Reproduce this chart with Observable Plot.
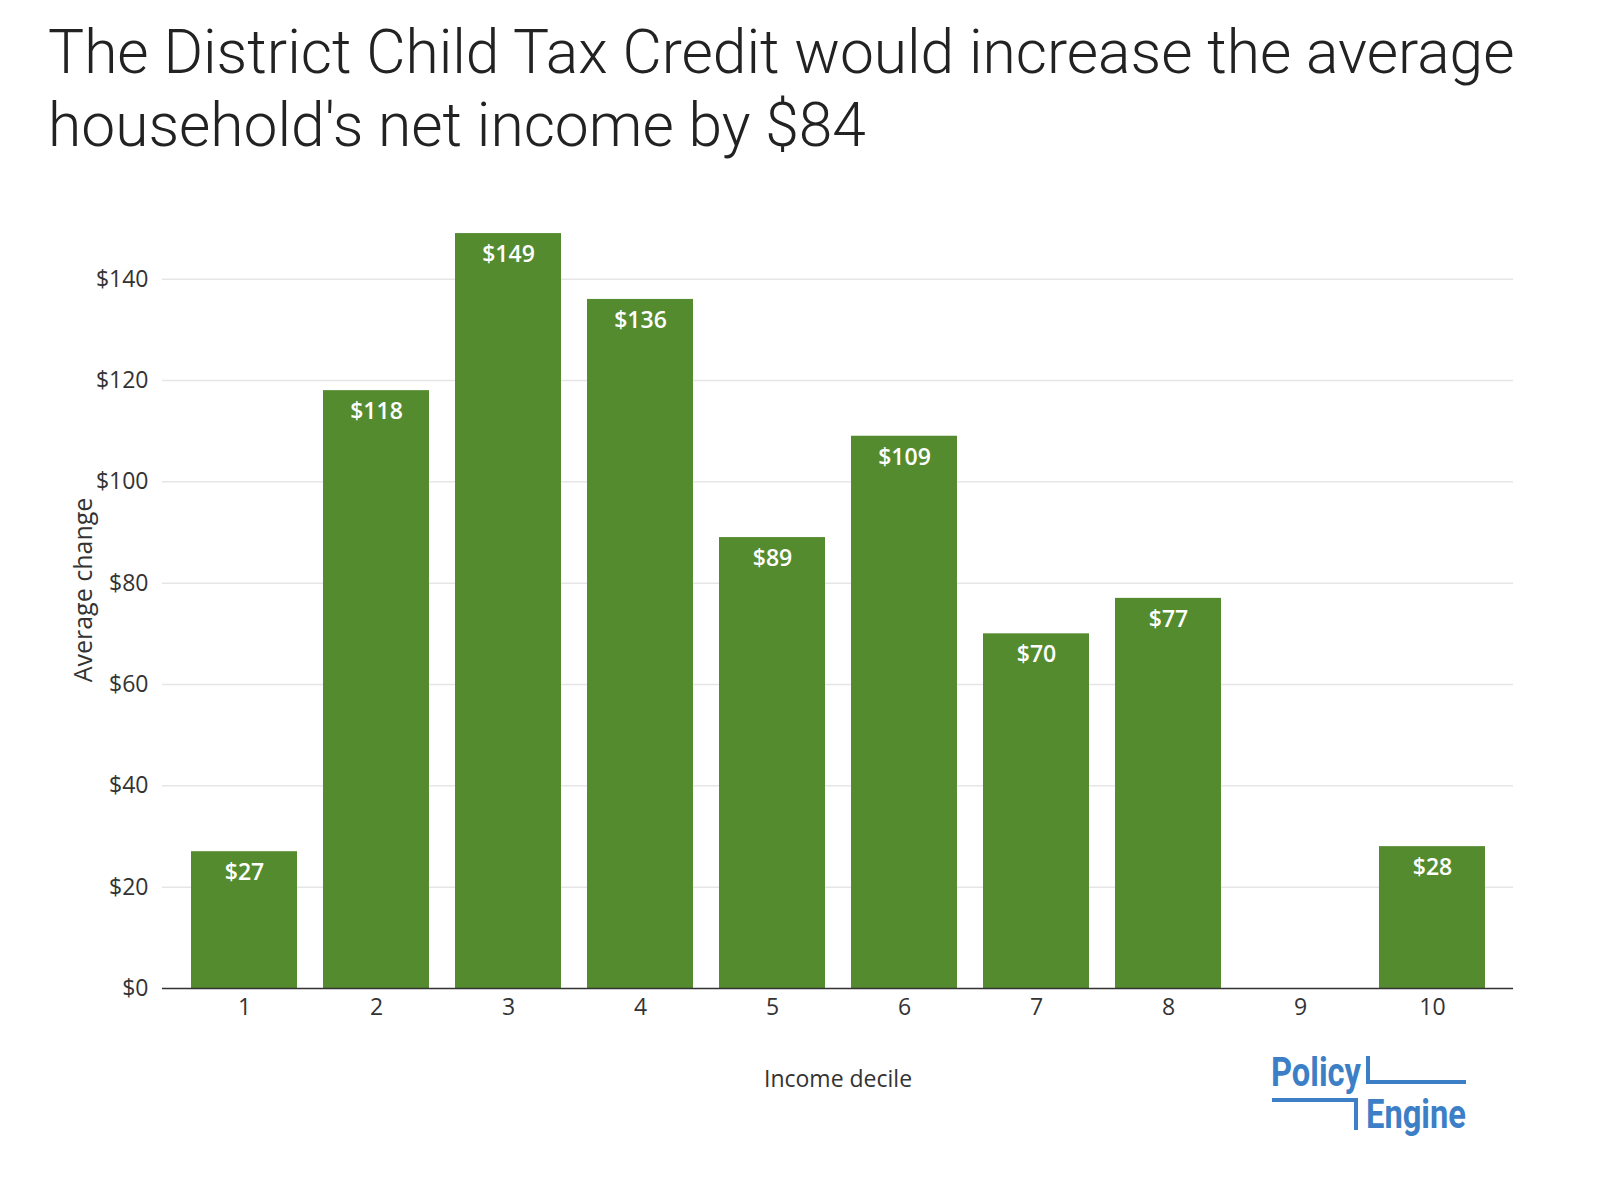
<!DOCTYPE html>
<html><head><meta charset="utf-8">
<script src="https://cdn.jsdelivr.net/npm/d3@7"></script>
<script src="https://cdn.jsdelivr.net/npm/@observablehq/plot@0.6"></script>
<style>
body{margin:0;background:#fff;width:1600px;height:1194px;position:relative;overflow:hidden;font-family:"Open Sans",sans-serif}
#title{position:absolute;left:48px;top:16px;font-family:Roboto,sans-serif;font-weight:300;font-size:60.5px;line-height:73px;color:#222;width:1550px}
#chart{position:absolute;left:0;top:180px}
#ylab{position:absolute;left:82px;top:590px;transform:translate(-50%,-50%) rotate(-90deg);font-size:25px;color:#333;white-space:nowrap}
#logo{position:absolute;left:1268px;top:1046px}
</style></head><body>
<div id="title">The District Child Tax Credit would increase the average household's net income by $84</div>
<div id="chart"></div>
<div id="ylab">Average change</div>
<svg id="logo" width="220" height="110">
<text x="3" y="40" font-family="Roboto, sans-serif" font-weight="700" font-size="40" fill="#3d7fc6" textLength="90" lengthAdjust="spacingAndGlyphs">Policy</text>
<text x="98" y="82" font-family="Roboto, sans-serif" font-weight="700" font-size="40" fill="#3d7fc6" textLength="100" lengthAdjust="spacingAndGlyphs">Engine</text>
<path d="M100,10 V36 H198 M4,54 H88 V84" stroke="#3d7fc6" stroke-width="4" fill="none"/>
</svg>
<script>
const deciles = ["1","2","3","4","5","6","7","8","9","10"];
const values = [27,118,149,136,89,109,70,77,0,28];
const data = deciles.map((d,i)=>({decile:d, value:values[i]}));
const fmt = v => "$" + v;
const chart = Plot.plot({
  width:1600, height:920,
  marginLeft:162, marginRight:87, marginTop:48, marginBottom:112,
  style:{fontFamily:"Open Sans, sans-serif", fontSize:"23px", color:"#333"},
  x:{domain:deciles, padding:0.2, label:"Income decile", labelAnchor:"center", labelOffset:98, tickSize:0, tickPadding:10},
  y:{domain:[0,150], ticks:[0,20,40,60,80,100,120,140], tickFormat:fmt, label:null, tickSize:0, tickPadding:14},
  marks:[
    Plot.gridY([20,40,60,80,100,120,140], {stroke:"#e6e6e6", strokeOpacity:1, strokeWidth:1.5}),
    Plot.barY(data, {x:"decile", y:"value", fill:"#558b2f"}),
    Plot.text(data.filter(d=>d.value>0), {x:"decile", y:"value", text:d=>fmt(d.value), fill:"white", dy:21, fontSize:23, fontWeight:600}),
    Plot.ruleY([0], {stroke:"#333", strokeWidth:1.5})
  ]
});
document.getElementById("chart").append(chart);
</script>
</body></html>
